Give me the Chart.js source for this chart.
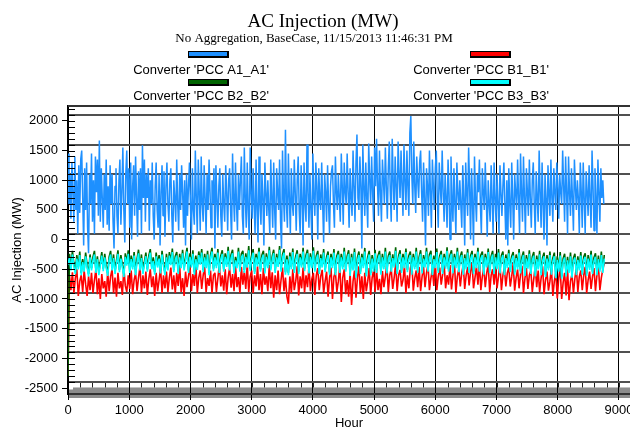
<!DOCTYPE html>
<html><head><meta charset="utf-8">
<script src="https://cdn.jsdelivr.net/npm/chart.js@4.4.1/dist/chart.umd.min.js"></script>
<style>html,body{margin:0;padding:0;background:#fff}canvas{display:block}</style>
</head><body>
<canvas id="c" width="630" height="430"></canvas>
<script>
const TITLE = 'AC Injection (MW)';
const SUBTITLE = 'No Aggregation, BaseCase, 11/15/2013 11:46:31 PM';
const X_TITLE = 'Hour';
const Y_TITLE = 'AC Injection (MW)';
const SERIES_NAMES = ["Converter 'PCC A1_A1'", "Converter 'PCC B1_B1'", "Converter 'PCC B2_B2'", "Converter 'PCC B3_B3'"];
const SERIES_COLORS = ['#1e90ff', '#ff0000', '#006400', '#00ffff'];
const X_TICKS = [0, 1000, 2000, 3000, 4000, 5000, 6000, 7000, 8000, 9000];
const Y_TICKS = [-2500, -2000, -1500, -1000, -500, 0, 500, 1000, 1500, 2000];
const Y_GRID = [-2400, -1900, -1400, -900, -400, 100, 600, 1100, 1600, 2100];
const A1_STEP_HOURS = 16;
const B_STEP_HOURS = 24;

// Converter 'PCC A1_A1' (one value every 16 h)
const A1 = [
1450,600,1100,350,1300,800,300,1400,500,1000,100,1250,450,1350,1500,
700,-100,1200,500,1300,200,-230,1100,600,1450,300,1000,100,1400,800,
1350,400,1670,300,1200,700,200,1100,500,1350,250,900,150,1250,600,
1100,300,-150,900,1200,400,100,1000,1350,250,800,1550,500,-50,1100,
1500,600,1200,200,1300,0,900,1250,400,1400,700,50,1150,500,1200,
100,1590,700,1350,300,1100,700,1200,150,1000,600,1300,400,0,900,
1300,500,200,1100,-100,800,1250,400,1150,50,900,1300,600,300,1000,
1200,400,-50,1000,700,300,1350,600,150,1100,500,1250,800,200,1000,
-100,1100,400,900,1300,600,0,1200,500,250,1500,700,100,1350,800,
150,1400,600,300,1250,700,100,1100,500,1350,800,200,1000,600,1200,
-150,1250,700,200,900,1200,400,50,1100,600,300,1250,800,150,1000,
1200,500,0,1450,700,300,1300,600,150,1100,500,1000,1400,400,100,
1550,700,200,1300,500,0,1550,800,350,1200,600,100,1350,500,-50,
1400,600,250,1100,700,-100,1300,800,400,1000,500,100,1350,700,200,
1300,500,0,1200,800,500,1350,300,-150,1500,700,300,1850,600,200,
1450,700,100,1200,600,400,1350,800,150,1000,1400,500,100,1250,700,
-100,1300,600,300,1600,800,200,1100,500,0,1450,700,400,1300,900,
0,1200,700,500,1300,600,-50,1100,800,300,1250,600,100,900,1150,
1250,600,200,1400,800,500,1100,700,300,1450,900,250,1300,800,600,
1450,800,200,1200,700,400,1500,900,300,1300,1770,700,500,1400,900,
-150,1600,900,400,1300,700,200,1620,1000,600,1400,800,300,1550,900,
1700,900,400,1500,800,300,1350,1000,600,1550,900,350,1200,1650,800,
300,1700,1000,500,1400,900,300,1650,1100,700,1500,900,400,1600,1000,
500,1500,900,400,1800,2080,1100,600,1650,900,450,1400,1000,700,1300,
1500,800,300,1300,700,-100,1200,900,400,1500,800,200,1350,900,500,
1200,1500,700,200,1300,900,600,1500,800,300,1100,700,200,1350,800,
0,1400,700,300,1200,600,100,1300,800,500,1000,600,200,1250,700,
-100,1300,800,400,1550,900,0,1200,600,-100,1400,700,300,1100,800,
1350,600,100,1200,800,500,1300,700,50,1000,600,300,1250,700,100,
1300,700,300,1100,600,100,1250,800,400,900,1300,600,0,1000,-100,
1200,600,200,1300,700,0,1100,800,500,1350,700,100,1450,800,300,
1400,700,100,1200,800,400,1350,700,200,1000,1300,600,100,1150,700,
300,1500,800,200,1300,600,0,1100,700,-100,1250,800,400,1350,700,
300,1200,800,500,1300,900,350,1100,800,600,1500,900,300,1400,800,
100,1400,800,400,1200,700,150,1350,900,500,1000,700,100,1300,800,
200,1300,700,100,1150,800,400,1250,700,200,1500,900,150,1200,700,
100,1350,800,300,1200,700,1000,600
];

// Converter 'PCC B1_B1' (one value every 24 h)
const B1 = [
-2280,-600,-850,-550,-900,-650,-500,-950,-700,-600,
-880,-520,-750,-950,-620,-850,-560,-900,-680,-500,
-920,-650,-1000,-580,-820,-700,-960,-540,-870,-620,
-500,-900,-640,-960,-560,-820,-700,-930,-480,-780,
-880,-600,-830,-520,-920,-680,-560,-870,-640,-450,
-900,-600,-820,-540,-930,-660,-500,-800,-620,-950,
-560,-870,-680,-480,-900,-600,-820,-540,-880,-640,
-470,-840,-600,-900,-560,-780,-430,-880,-650,-950,
-540,-800,-620,-450,-870,-580,-780,-400,-900,-640,
-520,-830,-600,-460,-880,-650,-780,-520,-900,-600,
-560,-880,-650,-420,-790,-600,-860,-500,-920,-640,
-470,-810,-580,-870,-440,-800,-630,-900,-460,-760,
-530,-830,-410,-880,-620,-520,-900,-600,-790,-450,
-850,-580,-920,-480,-760,-620,-870,-430,-820,-550,
-980,-600,-850,-520,-920,-680,-470,-870,-640,-960,
-1080,-620,-900,-500,-850,-700,-450,-940,-620,-820,
-470,-890,-600,-800,-440,-870,-660,-560,-930,-600,
-480,-850,-620,-510,-900,-700,-540,-960,-650,-470,
-1000,-620,-550,-880,-700,-430,-1050,-640,-500,-920,
-680,-960,-560,-1100,-700,-520,-980,-640,-450,-900,
-620,-1000,-560,-870,-700,-480,-930,-640,-520,-880,
-500,-850,-660,-920,-530,-800,-620,-420,-880,-600,
-490,-830,-640,-400,-870,-600,-510,-790,-680,-440,
-900,-600,-820,-480,-380,-860,-650,-520,-800,-460,
-870,-620,-460,-800,-560,-420,-850,-650,-500,-780,
-400,-850,-620,-470,-760,-580,-400,-820,-600,-760,
-430,-840,-600,-380,-900,-620,-490,-790,-560,-420,
-830,-600,-460,-770,-540,-400,-820,-640,-450,-760,
-390,-850,-620,-480,-800,-560,-420,-880,-600,-500,
-760,-450,-820,-620,-400,-850,-600,-480,-790,-560,
-470,-790,-620,-400,-860,-640,-500,-820,-580,-440,
-900,-650,-480,-830,-600,-520,-880,-660,-450,-800,
-520,-880,-650,-450,-920,-680,-540,-860,-700,-470,
-950,-700,-560,-990,-640,-480,-1000,-720,-560,-940,
-500,-1020,-700,-580,-900,-650,-470,-880,-620,-520,
-850,-600,-460,-900,-680,-540,-830,-620,-480,-870,
-600,-450,-850,-640,-500,-400
];

// Converter 'PCC B2_B2' (one value every 24 h)
const B2 = [
-2300,-240,-480,-190,-410,-540,-260,-460,-200,-560,
-330,-500,-220,-430,-580,-250,-480,-290,-190,-520,
-280,-560,-370,-210,-490,-240,-440,-570,-290,-190,
-470,-250,-540,-350,-180,-510,-260,-430,-590,-230,
-390,-180,-520,-270,-460,-210,-560,-320,-170,-480,
-250,-540,-370,-220,-500,-270,-160,-460,-300,-550,
-220,-430,-260,-530,-190,-410,-560,-240,-480,-210,
-380,-150,-510,-280,-210,-540,-240,-440,-170,-480,
-290,-140,-520,-230,-430,-180,-550,-270,-470,-200,
-360,-160,-510,-240,-440,-190,-560,-260,-140,-490,
-240,-440,-160,-520,-270,-180,-500,-230,-420,-120,
-470,-250,-170,-530,-290,-440,-140,-500,-240,-190,
-510,-230,-430,-110,-490,-270,-160,-540,-240,-410,
-140,-500,-260,-190,-530,-230,-440,-120,-480,-280,
-170,-520,-240,-420,-110,-500,-250,-160,-550,-270,
-560,-220,-460,-150,-520,-280,-180,-540,-240,-430,
-140,-490,-260,-170,-530,-230,-440,-130,-500,-270,
-190,-540,-250,-430,-160,-510,-290,-200,-550,-240,
-440,-160,-560,-270,-190,-520,-240,-460,-140,-500,
-280,-180,-570,-240,-480,-150,-600,-300,-200,-540,
-240,-440,-140,-580,-290,-190,-560,-260,-500,-170,
-520,-270,-190,-550,-240,-460,-140,-530,-280,-200,
-500,-250,-430,-130,-540,-270,-180,-520,-240,-440,
-150,-510,-270,-200,-550,-240,-460,-140,-520,-290,
-180,-530,-260,-430,-140,-500,-250,-190,-560,-270,
-440,-150,-520,-270,-190,-540,-240,-450,-130,-500,
-260,-180,-530,-240,-440,-140,-510,-280,-200,-550,
-250,-460,-160,-520,-270,-190,-540,-240,-440,-140,
-500,-260,-200,-550,-240,-430,-150,-520,-280,-190,
-540,-240,-460,-160,-530,-270,-200,-560,-250,-440,
-170,-510,-280,-210,-550,-250,-460,-160,-530,-290,
-200,-570,-260,-450,-180,-540,-290,-210,-580,-270,
-460,-190,-560,-300,-220,-590,-260,-480,-200,-550,
-310,-220,-610,-280,-500,-210,-620,-320,-240,-580,
-290,-520,-220,-600,-310,-240,-560,-280,-480,-210,
-550,-290,-230,-570,-260,-470,-190,-540,-300,-230,
-560,-270,-500,-200,-520,-260
];

// Converter 'PCC B3_B3' (one value every 24 h)
const B3 = [
-420,-300,-520,-250,-450,-580,-320,-500,-260,-600,
-380,-540,-280,-470,-620,-300,-520,-350,-250,-560,
-330,-600,-420,-270,-530,-300,-480,-610,-350,-250,
-520,-310,-580,-400,-240,-550,-320,-470,-630,-290,
-440,-240,-560,-330,-500,-270,-600,-380,-230,-520,
-310,-580,-420,-280,-540,-330,-220,-500,-360,-590,
-280,-470,-320,-570,-250,-450,-600,-300,-520,-270,
-430,-210,-550,-340,-270,-580,-300,-480,-230,-520,
-350,-200,-560,-290,-470,-240,-590,-330,-510,-260,
-420,-220,-550,-300,-480,-250,-600,-320,-200,-530,
-300,-480,-220,-560,-330,-240,-540,-290,-460,-190,
-520,-310,-230,-570,-350,-480,-200,-540,-300,-250,
-560,-290,-470,-180,-530,-330,-220,-580,-300,-450,
-200,-540,-320,-250,-570,-290,-480,-180,-520,-340,
-230,-560,-300,-460,-170,-540,-310,-220,-590,-330,
-600,-280,-500,-210,-560,-340,-240,-580,-300,-470,
-200,-530,-320,-230,-570,-290,-480,-190,-540,-330,
-250,-580,-310,-470,-220,-550,-350,-260,-590,-300,
-480,-220,-600,-330,-250,-560,-300,-500,-200,-540,
-340,-240,-610,-300,-520,-210,-640,-360,-260,-580,
-300,-480,-200,-620,-350,-250,-600,-320,-540,-230,
-560,-330,-250,-590,-300,-500,-200,-570,-340,-260,
-540,-310,-470,-190,-580,-330,-240,-560,-300,-480,
-210,-550,-330,-260,-590,-300,-500,-200,-560,-350,
-240,-570,-320,-470,-200,-540,-310,-250,-600,-330,
-480,-210,-560,-330,-250,-580,-300,-490,-190,-540,
-320,-240,-570,-300,-480,-200,-550,-340,-260,-590,
-310,-500,-220,-560,-330,-250,-580,-300,-480,-200,
-540,-320,-260,-590,-300,-470,-210,-560,-340,-250,
-580,-300,-500,-220,-570,-330,-260,-600,-310,-480,
-230,-550,-340,-270,-590,-310,-500,-220,-570,-350,
-260,-610,-320,-490,-240,-580,-350,-270,-620,-330,
-500,-250,-600,-360,-280,-630,-320,-520,-260,-590,
-370,-280,-650,-340,-540,-270,-660,-380,-300,-620,
-350,-560,-280,-640,-370,-300,-600,-340,-520,-270,
-590,-350,-290,-610,-320,-510,-250,-580,-360,-290,
-600,-330,-540,-260,-560,-320
];

const X_MIN = 0, X_MAX = 9180, Y_MIN = -2600, Y_MAX = 2250;
const Y_MINOR_STEP = 100;
const STRIP_TICK_HOURS = 200;

const toPoints = (vals, step) => vals.map((v, i) => ({ x: i * step, y: v }));
const FONT = "'Liberation Sans', Arial, sans-serif";
const SERIF = "'Liberation Serif', 'Times New Roman', serif";

const decor = {
  id: 'decor',
  beforeDraw(chart) {
    const { ctx, chartArea: a, scales: { x, y } } = chart;
    ctx.save();
    const top = y.getPixelForValue(-2400), mid = y.getPixelForValue(-2490);
    ctx.fillStyle = '#8c8c8c';
    ctx.fillRect(a.left, mid, a.right - a.left, a.bottom + 4 - mid);
    ctx.fillStyle = '#fff';
    ctx.fillRect(a.left + 1, mid - 1, 4, 3);
    ctx.strokeStyle = '#222'; ctx.lineWidth = 1;
    ctx.beginPath();
    for (let h = X_MIN + STRIP_TICK_HOURS; h <= X_MAX; h += STRIP_TICK_HOURS) {
      const px = Math.round(x.getPixelForValue(h)) + 0.5;
      ctx.moveTo(px, top); ctx.lineTo(px, mid);
    }
    ctx.stroke();
    ctx.restore();
  },
  afterDraw(chart) {
    const { ctx, chartArea: a, scales: { y } } = chart;
    ctx.save();
    ctx.strokeStyle = '#333'; ctx.lineWidth = 2;
    ctx.beginPath(); ctx.moveTo(a.left, a.top); ctx.lineTo(a.right, a.top); ctx.stroke();
    ctx.strokeStyle = '#000'; ctx.lineWidth = 1;
    ctx.beginPath();
    for (let v = -2400; v <= Y_MAX; v += Y_MINOR_STEP) {
      const py = Math.round(y.getPixelForValue(v)) + 0.5;
      ctx.moveTo(a.left, py); ctx.lineTo(a.left + 7, py);
    }
    ctx.stroke();
    ctx.fillStyle = '#000';
    ctx.textAlign = 'center'; ctx.textBaseline = 'alphabetic';
    ctx.font = '19px ' + SERIF;
    ctx.fillText(TITLE, 323, 27);
    ctx.font = '13px ' + SERIF;
    ctx.fillText(SUBTITLE, 314, 42);
    const cols = [{ bar: 188, text: 201 }, { bar: 470, text: 481 }];
    const rows = [{ bar: 51, text: 73.5 }, { bar: 79, text: 99.5 }];
    const layout = [[0, 0], [1, 0], [0, 1], [1, 1]];
    chart.data.datasets.forEach((ds, i) => {
      const c = cols[layout[i][0]], r = rows[layout[i][1]];
      ctx.fillStyle = '#000';
      ctx.fillRect(c.bar, r.bar, 41, 7);
      ctx.fillStyle = ds.borderColor;
      ctx.fillRect(c.bar + 1, r.bar + 1, 38, 4);
      ctx.fillStyle = '#000';
      ctx.font = '13px ' + FONT;
      ctx.fillText(ds.label, c.text, r.text);
    });
    ctx.restore();
  }
};

const mk = (i, vals, step, order, w) => ({
  label: SERIES_NAMES[i], data: toPoints(vals, step), borderColor: SERIES_COLORS[i],
  backgroundColor: SERIES_COLORS[i], borderWidth: w, pointRadius: 0, tension: 0,
  borderJoinStyle: 'bevel', fill: false, order
});

Chart.defaults.font.family = FONT;
Chart.defaults.font.size = 13;
Chart.defaults.color = '#000';

new Chart(document.getElementById('c'), {
  type: 'line',
  data: {
    datasets: [
      mk(0, A1, A1_STEP_HOURS, 4, 1.5),
      mk(1, B1, B_STEP_HOURS, 3, 1.6),
      mk(2, B2, B_STEP_HOURS, 2, 1.6),
      mk(3, B3, B_STEP_HOURS, 1, 1.6)
    ]
  },
  options: {
    responsive: false, animation: false, events: [],
    layout: { padding: { top: 106, left: 0, right: 0, bottom: 0 } },
    plugins: { legend: { display: false }, title: { display: false }, tooltip: { enabled: false } },
    scales: {
      x: {
        type: 'linear', position: 'bottom', min: X_MIN, max: X_MAX,
        afterBuildTicks: s => { s.ticks = X_TICKS.map(v => ({ value: v })); },
        afterFit: s => { s.height = 36; s.paddingLeft = 0; s.paddingRight = 0; },
        ticks: { autoSkip: false, maxRotation: 0, padding: 3, callback: v => String(v), font: { size: 13 } },
        grid: { color: '#000', lineWidth: 1, tickLength: 6, drawTicks: true },
        border: { color: '#333', width: 2 },
        title: { display: true, text: X_TITLE, font: { size: 13, lineHeight: 1 }, padding: { top: 0, bottom: 0 } }
      },
      y: {
        type: 'linear', position: 'left', min: Y_MIN, max: Y_MAX,
        afterBuildTicks: s => { s.ticks = Y_TICKS.map(v => ({ value: v })); },
        afterFit: s => { s.width = 68; s.paddingTop = 0; s.paddingBottom = 0; },
        ticks: { autoSkip: false, padding: 4, callback: v => String(v), font: { size: 13 } },
        grid: { drawOnChartArea: false, drawTicks: true, tickLength: 6, color: '#000' },
        border: { color: '#000', width: 2 },
        title: { display: true, text: Y_TITLE, font: { size: 13 }, padding: { top: 10, bottom: 0 } }
      },
      yGrid: {
        type: 'linear', position: 'left', min: Y_MIN, max: Y_MAX,
        afterBuildTicks: s => { s.ticks = Y_GRID.map(v => ({ value: v })); },
        afterFit: s => { s.width = 0; s.paddingTop = 0; s.paddingBottom = 0; },
        ticks: { display: false },
        grid: { color: '#505050', lineWidth: 2, drawTicks: false },
        border: { display: false }
      }
    }
  },
  plugins: [decor]
});
</script>
</body></html>
